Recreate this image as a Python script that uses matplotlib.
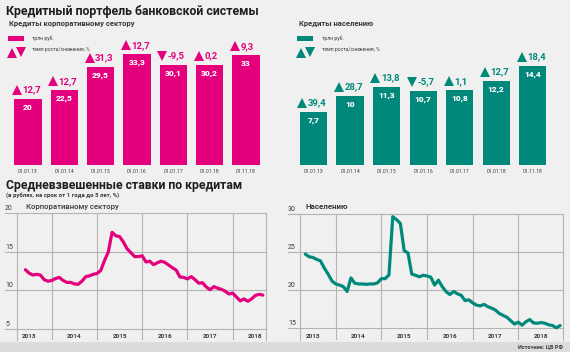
import matplotlib
matplotlib.use('Agg')
import matplotlib.pyplot as plt
from matplotlib.patches import Rectangle
import numpy as np

plt.rcParams['font.family'] = ['Roboto', 'DejaVu Sans']

# ---------------- data ----------------
bar_dates = ['01.01.13', '01.01.14', '01.01.15', '01.01.16', '01.01.17', '01.01.18', '01.11.18']
corp_loans = [20, 22.5, 29.5, 33.3, 30.1, 30.2, 33]
corp_growth = [12.7, 12.7, 31.3, 12.7, -9.5, 0.2, 9.3]
hh_loans = [7.7, 10, 11.3, 10.7, 10.8, 12.2, 14.4]
hh_growth = [39.4, 28.7, 13.8, -5.7, 1.1, 12.7, 18.4]

# monthly weighted average rates, month index counted from Jan 2013
corp_rate_start = 5
corp_rates = [12.7, 12.25, 12.0, 12.1, 12.0, 11.4, 11.2, 11.3, 11.55, 11.7,
              11.3, 11.05, 11.05, 10.85, 10.8, 11.2, 11.8, 11.9, 12.1, 12.2,
              12.6, 13.9, 15.0, 17.55, 17.1, 17.0, 16.3, 15.4, 14.9, 14.4,
              14.4, 14.5, 13.7, 13.8, 13.35, 13.6, 13.8, 13.65, 13.3, 12.95,
              12.65, 11.75, 11.7, 11.5, 11.8, 11.4, 10.95, 11.0, 10.45, 10.1,
              10.5, 10.3, 10.15, 9.9, 9.55, 9.65, 9.15, 8.65, 8.9, 8.6,
              8.9, 9.35, 9.5, 9.4]
hh_rate_start = 4
hh_rates = [24.75, 24.4, 24.3, 24.05, 23.85, 22.9, 22.1, 21.2, 20.8, 20.65,
            20.45, 19.8, 21.6, 20.9, 20.8, 20.8, 20.75, 20.8, 20.8, 20.95,
            21.5, 21.5, 22.0, 29.7, 29.3, 28.8, 25.2, 24.9, 22.1, 21.95,
            21.75, 21.95, 21.85, 21.7, 20.65, 21.3, 20.45, 19.8, 19.4, 19.8,
            19.5, 19.3, 18.6, 18.7, 18.3, 18.0, 17.9, 18.1, 17.8, 17.6,
            17.35, 16.9, 16.65, 16.4, 15.95, 15.5, 15.75, 15.35, 15.8, 16.1,
            15.65, 15.6, 15.7, 15.6, 15.4, 15.3, 15.0, 15.3]
years = ['2013', '2014', '2015', '2016', '2017', '2018']
corp_yticks = [5, 10, 15, 20]
hh_yticks = [15, 20, 25, 30]

# ---------------- style ----------------
W, H = 570, 352
BG = '#f0f0f0'
BAND = '#dcdcdc'
PINK = '#e4007c'
TEAL = '#00897b'
GRID = '#b4b4b4'
DARK = '#1e1e1e'
GREYTXT = '#3a3a3a'

fig = plt.figure(figsize=(W / 100, H / 100), dpi=100, facecolor=BG)

ov = fig.add_axes([0, 0, 1, 1], zorder=-5)
ov.set_xlim(0, W)
ov.set_ylim(H, 0)
ov.axis('off')
ov.add_patch(Rectangle((0, 342), W, 10, color=BAND, lw=0))


def px_axes(x0, y0, x1, y1):
    return fig.add_axes([x0 / W, 1 - y1 / H, (x1 - x0) / W, (y1 - y0) / H])


def fmt(v):
    return f'{v:g}'.replace('.', ',')


# ---------------- titles ----------------
ov.text(6, 14.5, 'Кредитный портфель банковской системы', fontsize=8.9,
        fontweight='bold', color=DARK, va='baseline', ha='left')
ov.text(9, 23.8, 'Кредиты корпоративному сектору', fontsize=5.5,
        fontweight='bold', color=GREYTXT, va='center', ha='left')
ov.text(299, 23.8, 'Кредиты населению', fontsize=5.5,
        fontweight='bold', color=GREYTXT, va='center', ha='left')
ov.text(6, 188.5, 'Средневзвешенные ставки по кредитам', fontsize=8.8,
        fontweight='bold', color=DARK, va='baseline', ha='left')
ov.text(6, 195.5, '(в рублях, на срок от 1 года до 3 лет, %)', fontsize=4.3,
        fontweight='bold', color=GREYTXT, va='center', ha='left')
ov.text(26, 207, 'Корпоративному сектору', fontsize=5.6,
        color=GREYTXT, va='center', ha='left', fontweight='medium')
ov.text(305, 206.5, 'Населению', fontsize=5.8,
        color=GREYTXT, va='center', ha='left', fontweight='bold')
ov.text(563, 346.5, 'Источник: ЦБ РФ', fontsize=4.0, fontweight='bold',
        color=GREYTXT, va='center', ha='right')


# ---------------- legends ----------------
def legend(x0, color):
    ov.add_patch(Rectangle((x0, 35.5), 15.5, 5.5, color=color, lw=0))
    ov.text(x0 + 24.5, 38.2, 'трлн руб.', fontsize=3.6, color=GREYTXT,
            va='center', ha='left')
    ov.plot([x0 + 3.5], [52.8], marker='^', ms=7.2, color=color, mew=0)
    ov.plot([x0 + 12.5], [52.2], marker='v', ms=7.2, color=color, mew=0)
    ov.text(x0 + 24.5, 49.5, 'темп роста/снижения, %', fontsize=3.6,
            color=GREYTXT, va='center', ha='left')


legend(8, PINK)
legend(297, TEAL)


# ---------------- bar panels ----------------
def bar_panel(x0, x1, vals, growth, color, ytop):
    y0, y1 = 30, 165
    ax = px_axes(x0, y0, x1, y1)
    n = len(vals)
    ax.set_xlim(-0.5, n - 0.5)
    ax.set_ylim(0, ytop)
    ax.axis('off')
    ax.patch.set_alpha(0)
    x = np.arange(n)
    bw = 0.75
    ax.bar(x, vals, width=bw, color=color, lw=0)
    pxu = (x1 - x0) / n          # px per x unit
    pyu = (y1 - y0) / ytop       # px per y unit
    for xi, v, g, d in zip(x, vals, growth, bar_dates):
        ax.annotate(fmt(v), (xi, v), xytext=(0, -5), textcoords='offset pixels',
                    ha='center', va='top', color='white', fontweight='black',
                    fontsize=6.0)
        left = xi - bw / 2
        yc = v + 9.0 / pyu
        ax.plot([left + 2.5 / pxu], [yc], marker='^' if g >= 0 else 'v',
                ms=7, color=color, mew=0, clip_on=False)
        ax.text(left + 8.0 / pxu, yc, fmt(g), color=color, fontweight='bold',
                fontsize=6.8, ha='left', va='center')
        ax.annotate(d, (xi, 0), xytext=(0, -6.5), textcoords='offset pixels',
                    ha='center', va='center', color=GREYTXT, fontsize=3.6)
    return ax


bar_panel(9.8, 264.2, corp_loans, corp_growth, PINK, (165 - 30) / 3.32)
bar_panel(295.4, 551.0, hh_loans, hh_growth, TEAL, (165 - 30) / 6.9)


# ---------------- line panels ----------------
def line_panel(box, xlim, ylim, start, rates, yticks, color, ext_px):
    x0, y0, x1, y1 = box
    ax = px_axes(x0, y0, x1, y1)
    ax.patch.set_alpha(0)
    ax.set_xlim(*xlim)
    ax.set_ylim(*ylim)
    ext = ext_px / (x1 - x0)
    ytr = ax.get_yaxis_transform()
    xtr = ax.get_xaxis_transform()
    for yv in yticks:
        ax.plot([-ext, 1], [yv, yv], transform=ytr, color=GRID, lw=0.8,
                clip_on=False, zorder=1)
        ax.annotate(str(yv), (-ext, yv), xycoords=ytr, xytext=(0, 1),
                    textcoords='offset pixels', ha='left', va='bottom',
                    fontsize=5, color=GREYTXT, annotation_clip=False)
    for k in range(1, len(years)):
        ax.axvline(12 * k, color=GRID, lw=0.8, zorder=1)
    for k, yl in enumerate(years):
        ax.text(12 * k + 6, 0.03, yl, transform=xtr, ha='center', va='center',
                fontsize=4.6, fontweight='bold', color=GREYTXT)
    for s in ['top', 'bottom']:
        ax.spines[s].set_visible(False)
    for s in ['left', 'right']:
        ax.spines[s].set_color(GRID)
        ax.spines[s].set_linewidth(0.8)
    ax.set_xticks([])
    ax.set_yticks([])
    months = np.arange(start, start + len(rates))
    ax.plot(months, rates, color=color, lw=2.3, solid_capstyle='round',
            solid_joinstyle='round', zorder=3)
    return ax


line_panel((17.3, 213, 266, 340), (2.86, 68.83), (3.57, 20.06),
           corp_rate_start, corp_rates, corp_yticks, PINK, 12.3)
line_panel((300, 214, 563.3, 340), (2.61, 71.84), (13.39, 30.05),
           hh_rate_start, hh_rates, hh_yticks, TEAL, 12.0)

fig.savefig('out.png', dpi=100, facecolor=BG)
